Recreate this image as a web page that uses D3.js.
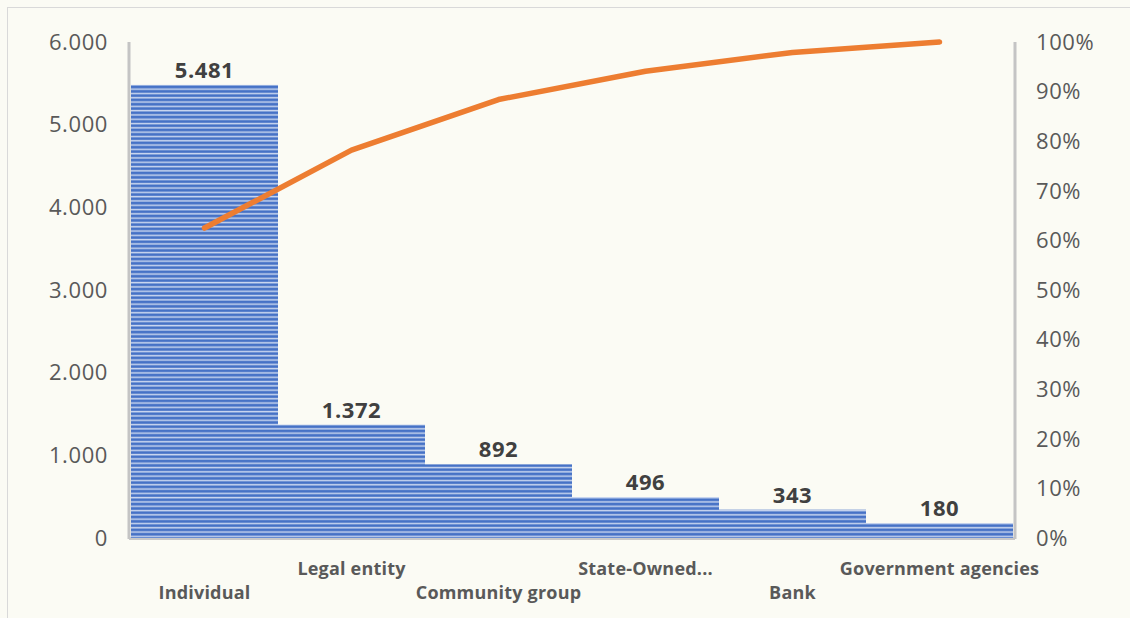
<!DOCTYPE html>
<html>
<head>
<meta charset="utf-8">
<script src="https://cdn.jsdelivr.net/npm/d3@7"></script>
<style>
  body { margin: 0; background: #fbfbf4; }
  svg { display: block; font-family: "Open Sans", "Noto Sans", sans-serif; }
  .tick-label { fill: #595959; font-size: 22px; letter-spacing: 0.6px; }
  .cat-label { fill: #595959; font-size: 18px; font-weight: 700; letter-spacing: 0.2px; }
  .val-label { fill: #404040; font-size: 22px; font-weight: 700; letter-spacing: 0.6px; }
</style>
</head>
<body>
<div id="chart"></div>
<script>
// data
const categories = ['Individual', 'Legal entity', 'Community group', 'State-Owned...', 'Bank', 'Government agencies'];
const counts = [5481, 1372, 892, 496, 343, 180];
const cumulativePct = [62.5, 78.2, 88.4, 94.1, 97.9, 100];
const leftTicks = [0, 1000, 2000, 3000, 4000, 5000, 6000];
const rightTicks = [0, 10, 20, 30, 40, 50, 60, 70, 80, 90, 100];

const width = 1130, height = 618;
const margin = { top: 42, right: 117, bottom: 80, left: 131 };

const svg = d3.select('#chart').append('svg')
  .attr('width', width)
  .attr('height', height);

// frame
svg.append('rect')
  .attr('x', 7.5).attr('y', 7.5)
  .attr('width', width).attr('height', height)
  .attr('fill', '#fbfbf4')
  .attr('stroke', '#d9d9d9');

// striped pattern for the bars
const defs = svg.append('defs');
const pat = defs.append('pattern')
  .attr('id', 'stripes')
  .attr('patternUnits', 'userSpaceOnUse')
  .attr('width', 8).attr('height', 4.3);
pat.append('rect').attr('width', 8).attr('height', 4.3).attr('fill', '#4672c6');
pat.append('rect').attr('y', 2.4).attr('width', 8).attr('height', 1.5).attr('fill', '#c9d6ef');

const x = d3.scaleBand()
  .domain(categories)
  .range([margin.left, width - margin.right])
  .padding(0);

const y = d3.scaleLinear()
  .domain([0, 6000])
  .range([height - margin.bottom, margin.top]);

const yPct = d3.scaleLinear()
  .domain([0, 100])
  .range([height - margin.bottom, margin.top]);

const base = y(0);

// shadow under the bars
svg.append('rect')
  .attr('x', margin.left - 2)
  .attr('y', base - 1)
  .attr('width', x.range()[1] - margin.left + 4)
  .attr('height', 3)
  .attr('fill', '#c8c8c8');

// bars
svg.selectAll('.bar')
  .data(counts)
  .join('rect')
  .attr('class', 'bar')
  .attr('x', (d, i) => x(categories[i]))
  .attr('y', d => y(d))
  .attr('width', x.bandwidth())
  .attr('height', d => base - y(d))
  .attr('fill', 'url(#stripes)');

// axis lines
svg.append('line')
  .attr('x1', margin.left - 2).attr('x2', margin.left - 2)
  .attr('y1', margin.top).attr('y2', base + 1)
  .attr('stroke', '#c4c4c4').attr('stroke-width', 3);
svg.append('line')
  .attr('x1', x.range()[1] + 2).attr('x2', x.range()[1] + 2)
  .attr('y1', margin.top).attr('y2', base + 1)
  .attr('stroke', '#c4c4c4').attr('stroke-width', 3);

// left axis labels
svg.selectAll('.ly')
  .data(leftTicks)
  .join('text')
  .attr('class', 'tick-label ly')
  .attr('x', 108)
  .attr('y', d => y(d))
  .attr('dy', '0.35em')
  .attr('text-anchor', 'end')
  .text(d => d === 0 ? '0' : d3.format(',')(d).replace(/,/g, '.') );

// right axis labels
svg.selectAll('.ry')
  .data(rightTicks)
  .join('text')
  .attr('class', 'tick-label ry')
  .attr('x', 1036)
  .attr('y', d => yPct(d))
  .attr('dy', '0.35em')
  .text(d => d + '%');

// value labels
svg.selectAll('.val-label')
  .data(counts)
  .join('text')
  .attr('class', 'val-label')
  .attr('x', (d, i) => x(categories[i]) + x.bandwidth() / 2)
  .attr('y', d => y(d) - 7)
  .attr('text-anchor', 'middle')
  .text(d => d3.format(',')(d).replace(/,/g, '.'));

// category labels, staggered
svg.selectAll('.cat-label')
  .data(categories)
  .join('text')
  .attr('class', 'cat-label')
  .attr('x', d => x(d) + x.bandwidth() / 2)
  .attr('y', (d, i) => i % 2 === 0 ? 599 : 575)
  .attr('text-anchor', 'middle')
  .text(d => d);

// cumulative line
const line = d3.line()
  .x((d, i) => x(categories[i]) + x.bandwidth() / 2)
  .y(d => yPct(d));

svg.append('path')
  .datum(cumulativePct)
  .attr('d', line)
  .attr('fill', 'none')
  .attr('stroke', '#ed7d31')
  .attr('stroke-width', 5.5)
  .attr('stroke-linecap', 'round')
  .attr('stroke-linejoin', 'round');
</script>
</body>
</html>
